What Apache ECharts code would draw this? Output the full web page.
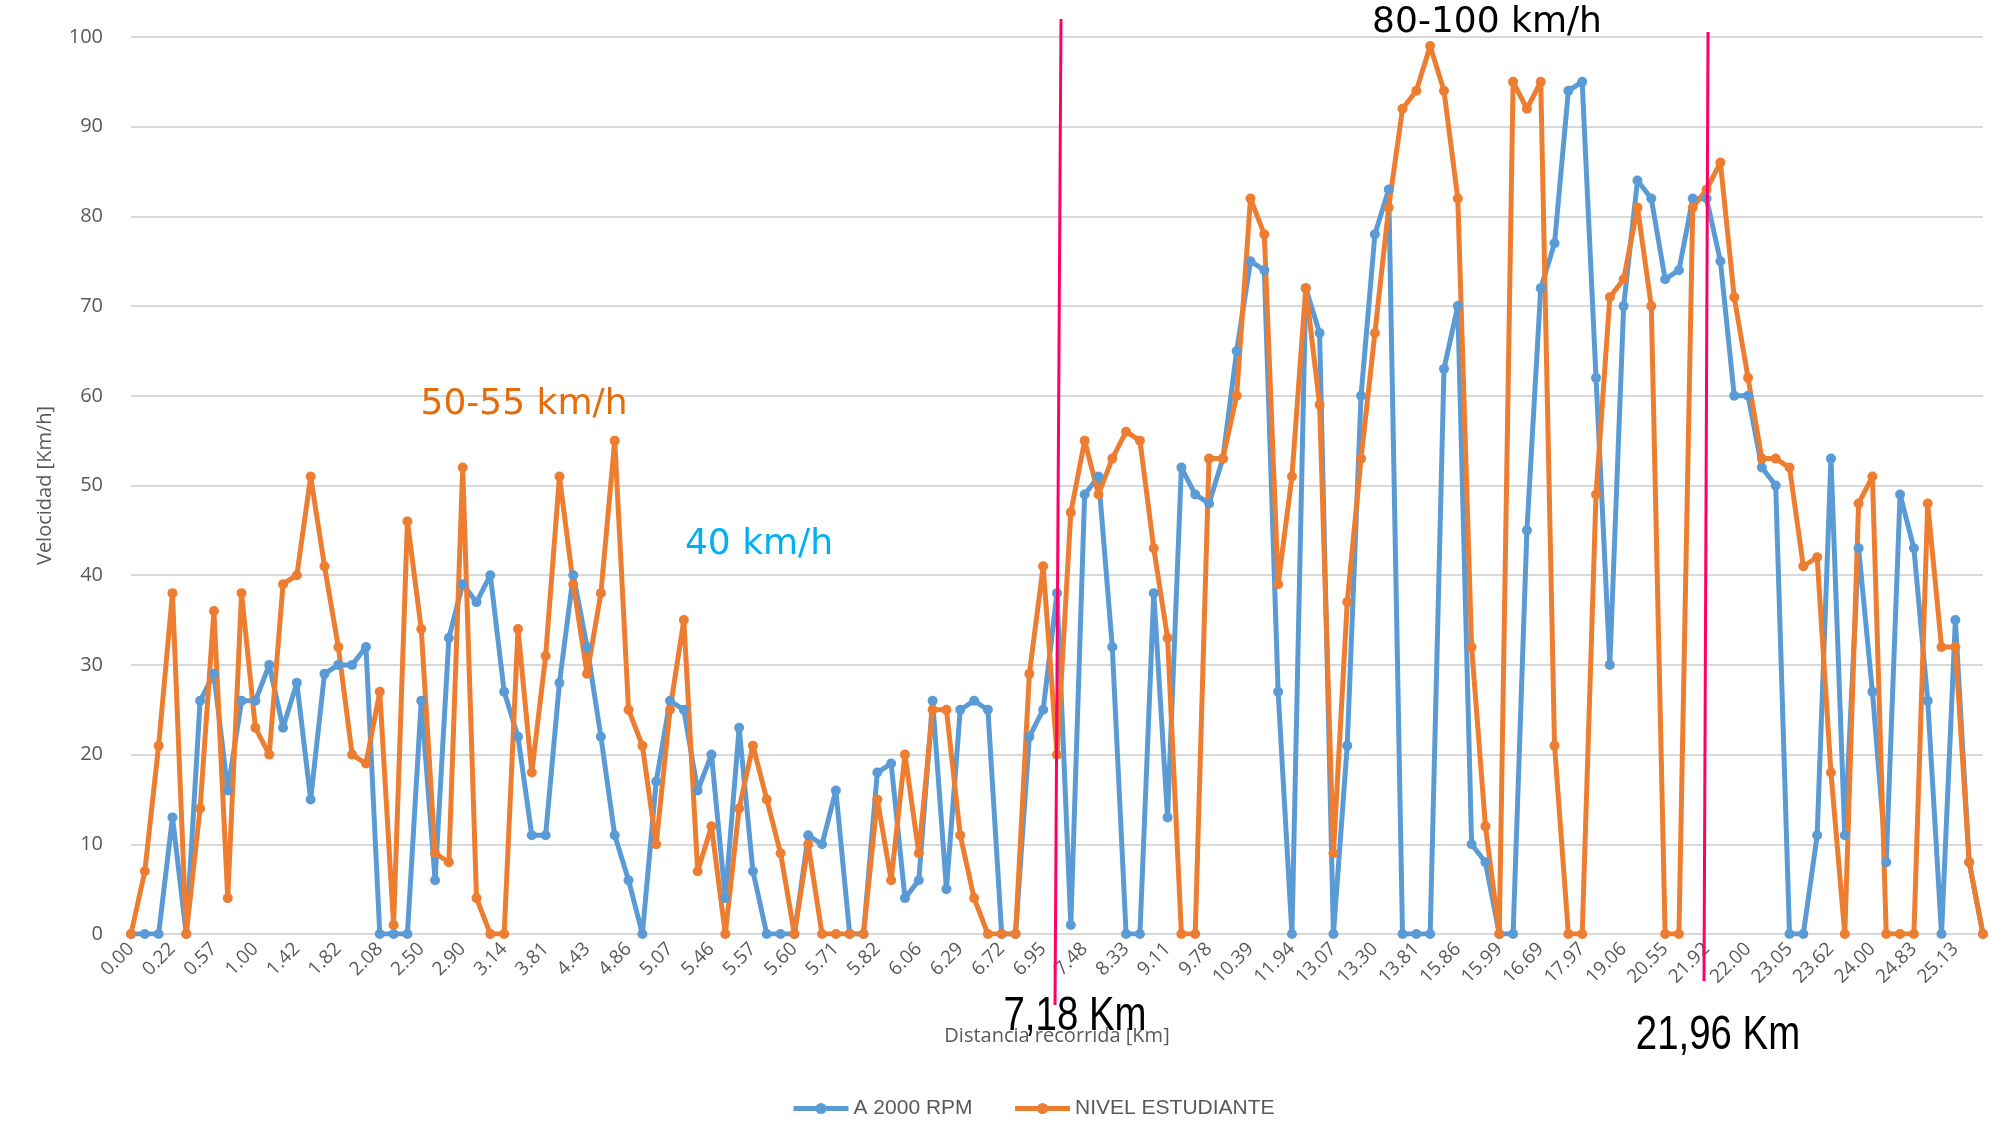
<!DOCTYPE html>
<html>
<head>
<meta charset="utf-8">
<title>Velocidad vs distancia</title>
<script src="https://cdn.jsdelivr.net/npm/echarts@6/dist/echarts.min.js"></script>
<style>
  html, body { margin: 0; padding: 0; background: #fff; }
  #chart { width: 1998px; height: 1125px; }
</style>
</head>
<body>
<div id="chart"></div>
<script>
// etiquetas del eje x (una de cada 3 mediciones)
const tickLabels = [
  '0.00', '0.22', '0.57', '1.00', '1.42', '1.82', '2.08', '2.50', '2.90', '3.14',
  '3.81', '4.43', '4.86', '5.07', '5.46', '5.57', '5.60', '5.71', '5.82', '6.06',
  '6.29', '6.72', '6.95', '7.48', '8.33', '9.11', '9.78', '10.39', '11.94', '13.07',
  '13.30', '13.81', '15.86', '15.99', '16.69', '17.97', '19.06', '20.55', '21.92', '22.00',
  '23.05', '23.62', '24.00', '24.83', '25.13'
];

const rpm2000 = [
  0, 0, 0, 13, 0, 26, 29, 16, 26, 26, 30, 23, 28, 15, 29, 30, 30, 32,
  0, 0, 0, 26, 6, 33, 39, 37, 40, 27, 22, 11, 11, 28, 40, 32, 22,
  11, 6, 0, 17, 26, 25, 16, 20, 4, 23, 7, 0, 0, 0, 11, 10,
  16, 0, 0, 18, 19, 4, 6, 26, 5, 25, 26, 25, 0, 0, 22, 25, 38,
  1, 49, 51, 32, 0, 0, 38, 13, 52, 49, 48, 53, 65, 75, 74, 27, 0,
  72, 67, 0, 21, 60, 78, 83, 0, 0, 0, 63, 70, 10, 8, 0, 0,
  45, 72, 77, 94, 95, 62, 30, 70, 84, 82, 73, 74, 82, 82, 75, 60, 60,
  52, 50, 0, 0, 11, 53, 11, 43, 27, 8, 49, 43, 26, 0, 35, 8, 0
];

const estudiante = [
  0, 7, 21, 38, 0, 14, 36, 4, 38, 23, 20, 39, 40, 51, 41, 32, 20, 19,
  27, 1, 46, 34, 9, 8, 52, 4, 0, 0, 34, 18, 31, 51, 39, 29, 38,
  55, 25, 21, 10, 25, 35, 7, 12, 0, 14, 21, 15, 9, 0, 10, 0,
  0, 0, 0, 15, 6, 20, 9, 25, 25, 11, 4, 0, 0, 0, 29, 41, 20,
  47, 55, 49, 53, 56, 55, 43, 33, 0, 0, 53, 53, 60, 82, 78, 39, 51,
  72, 59, 9, 37, 53, 67, 81, 92, 94, 99, 94, 82, 32, 12, 0, 95,
  92, 95, 21, 0, 0, 49, 71, 73, 81, 70, 0, 0, 81, 83, 86, 71, 62,
  53, 53, 52, 41, 42, 18, 0, 48, 51, 0, 0, 0, 48, 32, 32, 8, 0
];

const categories = rpm2000.map((v, i) => String(i));

const GREY = '#595959';
const GRID_LINE = '#D9D9D9';

const chart = echarts.init(document.getElementById('chart'));

const mkSeries = (name, data, color) => ({
  name,
  type: 'line',
  data,
  symbol: 'circle',
  symbolSize: 10,
  showSymbol: true,
  showAllSymbol: true,
  animation: false,
  itemStyle: { color },
  lineStyle: { color, width: 5 }
});

// texto libre sobre el grafico; sx < 1 estrecha la letra
const label = (text, x, y, size, family, color, sx = 1) => ({
  type: 'text',
  x,
  y,
  scaleX: sx,
  z: 200,
  style: {
    text,
    fontSize: size,
    fontFamily: family,
    fill: color,
    align: 'center',
    verticalAlign: 'middle'
  }
});

const option = {
  animation: false,
  backgroundColor: '#fff',
  grid: {
    left: 131,
    right: 15,
    top: 37,
    bottom: 191
  },
  legend: {
    left: 786,
    top: 1093,
    itemWidth: 55,
    itemHeight: 14,
    itemGap: 40,
    lineStyle: { width: 5 },
    textStyle: {
      color: GREY,
      fontSize: 21,
      fontFamily: 'Liberation Sans'
    },
    data: ['A 2000 RPM', 'NIVEL ESTUDIANTE']
  },
  xAxis: {
    type: 'category',
    data: categories,
    boundaryGap: false,
    name: 'Distancia recorrida [Km]',
    nameLocation: 'middle',
    nameGap: 92,
    nameTextStyle: { color: GREY, fontSize: 20, fontFamily: 'Open Sans' },
    axisLine: { lineStyle: { color: GRID_LINE, width: 2 } },
    axisTick: { show: false },
    axisLabel: {
      interval: 2,
      rotate: 45,
      margin: 12,
      color: GREY,
      fontSize: 19,
      fontFamily: 'Open Sans',
      formatter: (v, idx) => tickLabels[idx / 3] || ''
    }
  },
  yAxis: {
    type: 'value',
    min: 0,
    max: 100,
    interval: 10,
    name: 'Velocidad [Km/h]',
    nameLocation: 'middle',
    nameGap: 76,
    nameRotate: 90,
    nameTextStyle: { color: GREY, fontSize: 20, fontFamily: 'Open Sans' },
    axisLine: { show: false },
    axisTick: { show: false },
    axisLabel: { color: GREY, fontSize: 20, margin: 28, fontFamily: 'Open Sans' },
    splitLine: { lineStyle: { color: GRID_LINE, width: 2 } }
  },
  series: [
    mkSeries('A 2000 RPM', rpm2000, '#5B9BD5'),
    mkSeries('NIVEL ESTUDIANTE', estudiante, '#ED7D31')
  ],
  graphic: [
    // lineas de tramo
    { type: 'line', z: 150, shape: { x1: 1061, y1: 19, x2: 1055, y2: 1005 }, style: { stroke: '#FF0066', lineWidth: 3 } },
    { type: 'line', z: 150, shape: { x1: 1708, y1: 32, x2: 1704, y2: 981 }, style: { stroke: '#FF0066', lineWidth: 3 } },
    label('80-100 km/h', 1487, 23, 36, 'DejaVu Sans', '#000000'),
    label('50-55 km/h', 524, 405, 36, 'DejaVu Sans', '#E46C0A'),
    label('40 km/h', 759, 545, 36, 'DejaVu Sans', '#00B0F0'),
    label('7,18 Km', 1075, 1017, 48, 'Liberation Sans', '#000000', 0.8),
    label('21,96 Km', 1718, 1036, 48, 'Liberation Sans', '#000000', 0.8)
  ]
};

chart.setOption(option);
</script>
</body>
</html>
